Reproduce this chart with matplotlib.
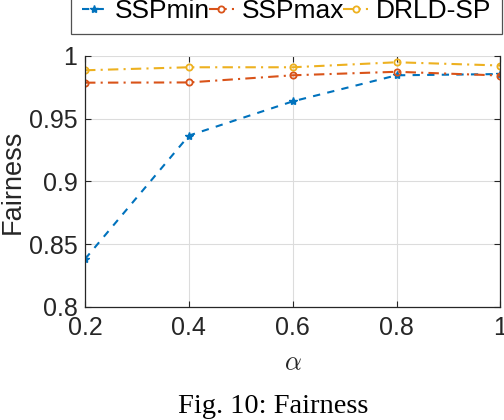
import matplotlib
matplotlib.use('Agg')
import matplotlib.pyplot as plt

plt.rcParams['font.family'] = 'Liberation Sans'
plt.rcParams['mathtext.fontset'] = 'cm'

alpha = [0.2, 0.4, 0.6, 0.8, 1.0]
ssp_min = [0.838, 0.9365, 0.9638, 0.9846, 0.9856]
ssp_max = [0.9787, 0.9789, 0.9846, 0.9874, 0.9844]
drld_sp = [0.9886, 0.9910, 0.9910, 0.9950, 0.9924]

xticks = [0.2, 0.4, 0.6, 0.8, 1.0]
xticklabels = ['0.2', '0.4', '0.6', '0.8', '1']
yticks = [0.8, 0.85, 0.9, 0.95, 1.0]
yticklabels = ['0.8', '0.85', '0.9', '0.95', '1']

blue = '#0072BD'
orange = '#D95319'
yellow = '#EDB120'
dark = '#262626'

fig = plt.figure(figsize=(5.04, 4.2), dpi=100)
ax = fig.add_axes([0.1687, 0.2698, 0.8243, 0.5969])

ax.plot(alpha, ssp_min, color=blue, lw=1.5, ls=(0, (3.5, 3.5)), marker='*', ms=6,
        label='SSPmin')
ax.plot(alpha, ssp_max, color=orange, lw=1.5, ls=(0, (5, 2.5, 1, 2.5)), marker='o',
        ms=4.5, mfc='none', mew=1.3, label='SSPmax')
ax.plot(alpha, drld_sp, color=yellow, lw=1.5, ls=(0, (5, 2.5, 1, 2.5)), marker='o',
        ms=4.5, mfc='none', mew=1.3, label='DRLD-SP')

ax.set_xlim(0.2, 1.0)
ax.set_ylim(0.8, 1.0)
ax.set_xticks(xticks)
ax.set_xticklabels(xticklabels)
ax.set_yticks(yticks)
ax.set_yticklabels(yticklabels)
ax.grid(True, color='#dcdcdc', lw=0.8)
ax.set_axisbelow(True)

ax.spines['top'].set_visible(False)
for s in ['left', 'bottom', 'right']:
    ax.spines[s].set_color(dark)
    ax.spines[s].set_linewidth(0.9)
ax.tick_params(direction='in', length=4, width=0.8, color=dark,
               top=True, right=True, labelsize=18, labelcolor=dark)
ax.tick_params(axis='y', pad=5.5)
ax.tick_params(axis='x', pad=6.5)

ax.set_ylabel('Fairness', fontsize=19.5, color=dark, labelpad=2)
ax.set_xlabel(r'$\alpha$', fontsize=19, color=dark, labelpad=8)

leg = fig.legend(loc='lower left', bbox_to_anchor=(0.141, 0.919, 0.855, 0.2),
                 mode='expand', ncol=3, fontsize=19, handlelength=0.95,
                 handletextpad=0.3, columnspacing=0.4, borderaxespad=0,
                 fancybox=False, edgecolor=dark, borderpad=0.4)
leg.get_frame().set_linewidth(0.9)

fig.text(0.542, 0.033, 'Fig. 10: Fairness', ha='center', va='center',
         fontsize=20.5, family='Liberation Serif')

fig.savefig('out.png', dpi=100)
